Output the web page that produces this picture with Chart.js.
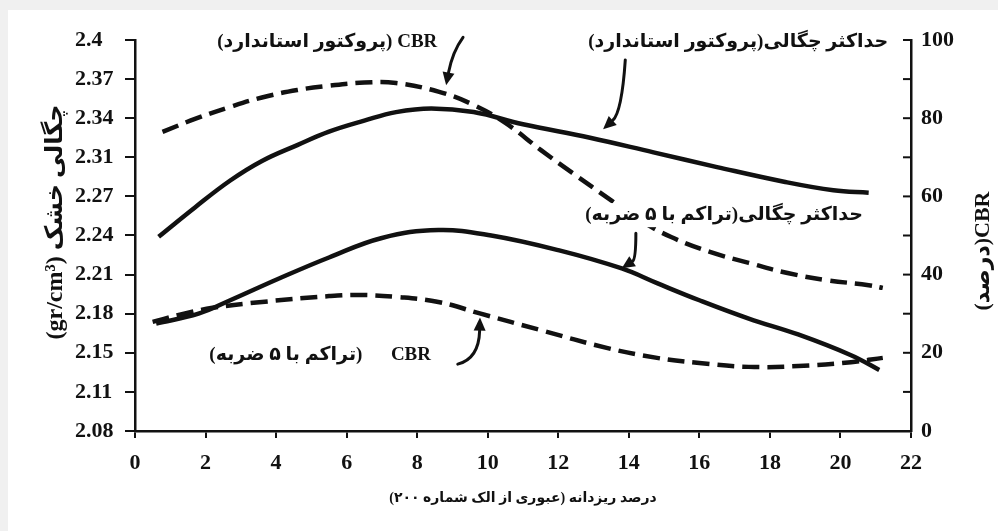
<!DOCTYPE html>
<html>
<head>
<meta charset="utf-8">
<script src="https://cdn.jsdelivr.net/npm/chart.js"></script>
<style>
  html, body { margin: 0; padding: 0; background: #f0f0f0; }
  canvas { display: block; }
</style>
</head>
<body>
<canvas id="soilChart" width="998" height="531"></canvas>
<script>
// fines content (% passing sieve #200) and values
const densityStdX   = [0.67, 1.7, 2.7, 3.6, 4.6, 5.5, 6.5, 7.4, 8.4, 9.6, 11.0, 12.9, 14.7, 16.5, 18.4, 19.8, 20.8];
const densityStdY   = [2.239, 2.263, 2.285, 2.301, 2.314, 2.325, 2.334, 2.341, 2.344, 2.341, 2.331, 2.320, 2.308, 2.296, 2.284, 2.277, 2.275];

const cbrStdX       = [0.78, 1.7, 2.7, 3.6, 4.6, 5.5, 6.5, 7.4, 8.6, 9.6, 10.5, 11.5, 12.4, 13.5, 14.3, 15.2, 16.3, 17.4, 18.5, 19.6, 20.8, 21.2];
const cbrStdY       = [76.5, 79.8, 82.9, 85.3, 87.2, 88.3, 89.1, 89.0, 86.8, 83.4, 78.8, 71.9, 66.0, 59.0, 54.0, 49.6, 45.8, 43.0, 40.4, 38.6, 37.3, 36.6];

const density5X     = [0.6, 1.8, 2.7, 4.1, 5.5, 7.0, 8.6, 10.1, 12.0, 13.8, 14.8, 16.0, 17.4, 18.8, 20.3, 21.1];
const density5Y     = [2.168, 2.176, 2.187, 2.205, 2.222, 2.238, 2.2445, 2.240, 2.228, 2.213, 2.201, 2.187, 2.172, 2.159, 2.142, 2.130];

const cbr5X         = [0.5, 1.3, 2.2, 3.6, 5.5, 6.3, 7.4, 8.6, 9.8, 11.5, 13.4, 14.8, 16.0, 17.4, 18.8, 20.3, 21.2];
const cbr5Y         = [27.9, 29.8, 31.5, 33.0, 34.5, 34.8, 34.3, 33.0, 30.0, 25.8, 21.2, 18.7, 17.4, 16.4, 16.6, 17.6, 18.7];

const densityTickValues = [2.08, 2.112, 2.144, 2.176, 2.208, 2.24, 2.272, 2.304, 2.336, 2.368, 2.4];
const densityTickLabels = ['2.08', '2.11', '2.15', '2.18', '2.21', '2.24', '2.27', '2.31', '2.34', '2.37', '2.4'];
const cbrTickLabels = {0: '0', 20: '20', 40: '40', 60: '60', 80: '80', 100: '100'};

const pair = (xs, ys) => xs.map((x, i) => ({x: x, y: ys[i]}));

const ink = '#111';
const tickFont = {family: "'Liberation Serif', serif", weight: 'bold', size: 22};
const noteFont = "bold 19px 'Liberation Serif', 'DejaVu Sans', sans-serif";

// labels and arrows, placed in data units (x, CBR)
const notes = [
  {text: 'CBR (پروکتور استاندارد)', x: 5.45, c: 99.4},
  {text: 'حداکثر چگالی(پروکتور استاندارد)', x: 17.1, c: 99.4},
  {text: 'حداکثر چگالی(تراکم با ۵ ضربه)', x: 16.7, c: 55.2},
  {text: 'CBR      (تراکم با ۵ ضربه)', x: 5.25, c: 19.4}
];
const arrows = [
  {from: [9.3, 100.7], ctrl: [9.0, 97.0], to: [8.82, 88.4]},
  {from: [13.9, 94.9], ctrl: [13.8, 81.5], to: [13.27, 77.2]},
  {from: [14.2, 50.6], ctrl: [14.2, 44], to: [13.8, 41.6]},
  {from: [9.15, 17.1], ctrl: [9.75, 18.5], to: [9.78, 29.0]}
];

const frame = {
  id: 'frame',
  beforeDraw(chart) {
    const ctx = chart.ctx;
    ctx.save();
    ctx.fillStyle = '#f0f0f0';
    ctx.fillRect(0, 0, chart.width, chart.height);
    ctx.fillStyle = '#fff';
    ctx.fillRect(8, 10, chart.width - 8, chart.height - 10);
    ctx.restore();
  }
};

const extras = {
  id: 'extras',
  afterDraw(chart) {
    const ctx = chart.ctx;
    const xs = chart.scales.x, yc = chart.scales.yC;
    const px = v => xs.getPixelForValue(v), py = v => yc.getPixelForValue(v);

    ctx.save();
    // inward ticks on the right axis
    ctx.strokeStyle = ink;
    ctx.lineWidth = 2;
    yc.ticks.forEach(t => {
      const y = py(t.value);
      ctx.beginPath();
      ctx.moveTo(yc.left - 8, y);
      ctx.lineTo(yc.left, y);
      ctx.stroke();
    });

    // curve labels (on a white patch, like the source)
    ctx.font = noteFont;
    ctx.direction = 'rtl';
    ctx.textAlign = 'center';
    ctx.textBaseline = 'middle';
    notes.forEach(n => {
      const w = ctx.measureText(n.text).width;
      ctx.fillStyle = '#fff';
      ctx.fillRect(px(n.x) - w / 2 - 3, py(n.c) - 12, w + 6, 24);
      ctx.fillStyle = ink;
      ctx.fillText(n.text, px(n.x), py(n.c));
    });

    // arrows
    arrows.forEach(a => {
      const x0 = px(a.from[0]), y0 = py(a.from[1]);
      const cx = px(a.ctrl[0]), cy = py(a.ctrl[1]);
      const x1 = px(a.to[0]), y1 = py(a.to[1]);
      const ang = Math.atan2(y1 - cy, x1 - cx);
      const hl = 13, hw = 6;
      const bx = x1 - Math.cos(ang) * hl, by = y1 - Math.sin(ang) * hl;
      ctx.lineWidth = 3;
      ctx.lineCap = 'round';
      ctx.beginPath();
      ctx.moveTo(x0, y0);
      ctx.quadraticCurveTo(cx, cy, bx, by);
      ctx.stroke();
      ctx.fillStyle = ink;
      ctx.beginPath();
      ctx.moveTo(x1, y1);
      ctx.lineTo(bx + Math.sin(ang) * hw, by - Math.cos(ang) * hw);
      ctx.lineTo(bx - Math.sin(ang) * hw, by + Math.cos(ang) * hw);
      ctx.closePath();
      ctx.fill();
    });

    // axis titles
    ctx.fillStyle = ink;
    ctx.font = "bold 14px 'Liberation Serif', 'DejaVu Sans', sans-serif";
    ctx.fillText('درصد ریزدانه (عبوری از الک شماره ۲۰۰)', (xs.left + xs.right) / 2, 498);

    ctx.save();
    ctx.font = "bold 24px 'Liberation Serif', 'DejaVu Sans', sans-serif";
    ctx.translate(56, 222);
    ctx.rotate(-Math.PI / 2);
    ctx.fillText('چگالی خشک (gr/cm³)', 0, 0);
    ctx.restore();

    ctx.save();
    ctx.font = "bold 22px 'Liberation Serif', 'DejaVu Sans', sans-serif";
    ctx.translate(983, 251);
    ctx.rotate(-Math.PI / 2);
    ctx.fillText('CBR(درصد)', 0, 0);
    ctx.restore();

    ctx.restore();
  }
};

new Chart(document.getElementById('soilChart'), {
  type: 'line',
  data: {
    datasets: [
      {label: 'densityStd', data: pair(densityStdX, densityStdY), yAxisID: 'yD', borderDash: []},
      {label: 'cbrStd', data: pair(cbrStdX, cbrStdY), yAxisID: 'yC', borderDash: [17, 8]},
      {label: 'density5', data: pair(density5X, density5Y), yAxisID: 'yD', borderDash: []},
      {label: 'cbr5', data: pair(cbr5X, cbr5Y), yAxisID: 'yC', borderDash: [17, 8]}
    ]
  },
  options: {
    responsive: false,
    animation: false,
    layout: {padding: {top: 40, left: 75, right: 0, bottom: 0}},
    elements: {
      line: {borderColor: ink, borderWidth: 4.5, tension: 0.4, fill: false, borderCapStyle: 'butt'},
      point: {radius: 0}
    },
    plugins: {legend: {display: false}, tooltip: {enabled: false}},
    scales: {
      x: {
        type: 'linear', min: 0, max: 22,
        ticks: {stepSize: 2, color: ink, font: tickFont, padding: 12},
        grid: {drawOnChartArea: false, tickLength: 7, color: ink, lineWidth: 2},
        border: {color: ink, width: 2.5},
        afterFit: s => { s.height = 100; }
      },
      yD: {
        type: 'linear', position: 'left', min: 2.08, max: 2.4,
        afterBuildTicks: s => { s.ticks = densityTickValues.map(v => ({value: v})); },
        ticks: {color: ink, font: tickFont, padding: 4, crossAlign: 'far', callback: (v, i) => densityTickLabels[i]},
        grid: {drawOnChartArea: false, tickLength: 10, color: ink, lineWidth: 2},
        border: {color: ink, width: 2.5},
        afterFit: s => { s.width = 60; }
      },
      yC: {
        type: 'linear', position: 'right', min: 0, max: 100,
        ticks: {stepSize: 10, color: ink, font: tickFont, padding: 10, callback: v => cbrTickLabels[v] ?? ''},
        grid: {drawOnChartArea: false, drawTicks: false, color: ink},
        border: {color: ink, width: 2.5},
        afterFit: s => { s.width = 87; }
      }
    }
  },
  plugins: [frame, extras]
});
</script>
</body>
</html>
